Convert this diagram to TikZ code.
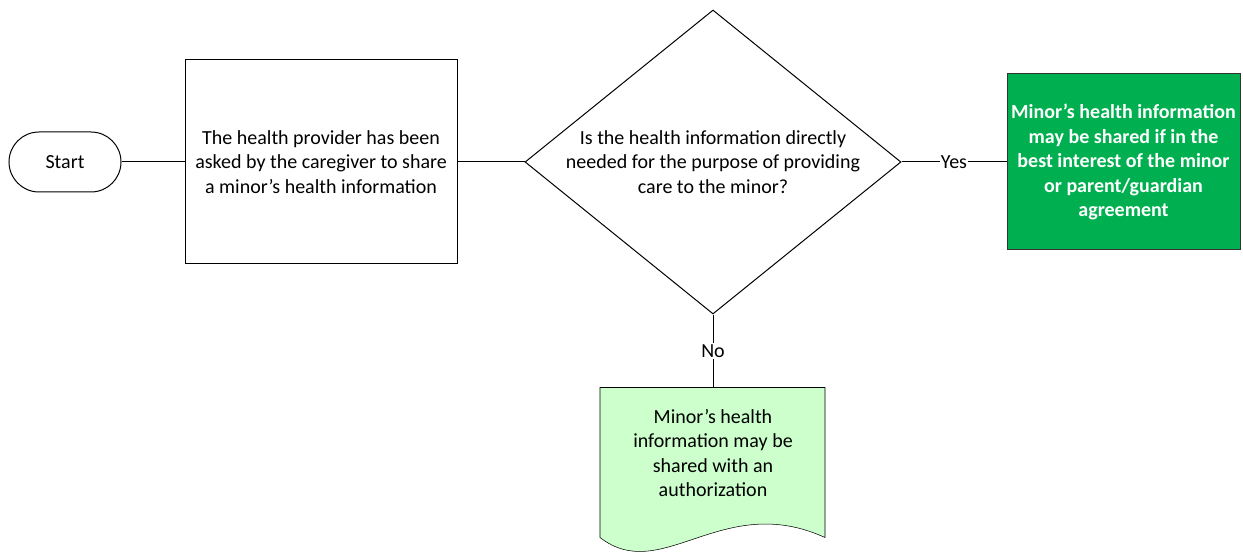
\documentclass[tikz,border=0pt]{standalone}
\usepackage{fontspec}
\setmainfont{Carlito}
\usetikzlibrary{positioning,shapes.geometric,backgrounds}
\definecolor{okgreen}{HTML}{00B050}
\definecolor{docgreen}{HTML}{CCFFCC}

\begin{document}
\begin{tikzpicture}[line width=0.75pt,
		every node/.style={font=\fontsize{15}{18.4}\selectfont,align=center},
		terminal/.style={draw,rounded corners=22.5pt,minimum width=84pt,minimum height=45pt,inner sep=0pt},
		process/.style={draw,minimum width=204pt,minimum height=153pt,inner sep=0pt},
		decision/.style={draw,diamond,aspect=1.237,minimum width=282pt,minimum height=228pt,inner sep=0pt},
		result/.style={draw=black!80,fill=okgreen,text=white,font=\fontsize{15}{18.4}\selectfont\bfseries,minimum width=174.75pt,minimum height=132pt,inner sep=0pt},
		docbox/.style={minimum width=168.75pt,minimum height=97.5pt,inner sep=0pt},
		edgelabel/.style={fill=white,inner sep=1pt}]
		\useasboundingbox (0,0) rectangle (932.25pt,-414pt);
		
		\node [terminal] at (48.75pt,-121.5pt)         (start) {Start};
		\node [process,right=47.25pt of start]         (ask)   {The health provider has been\\asked by the caregiver to share\\a minor’s health information};
		\node [decision,right=50.25pt of ask]          (need)  {Is the health information directly\\needed for the purpose of providing\\care to the minor?};
		\node [result,right=78.75pt of need]           (share) {Minor’s health information\\may be shared if in the\\best interest of the minor\\or parent/guardian\\agreement};
		\node [docbox,below=54.75pt of need]           (auth)  {Minor’s health\\information may be\\shared with an\\authorization};
		
		% document shape with wavy bottom
		\begin{scope}[on background layer,shift={(auth.north west)}]
			\draw [fill=docgreen] (0,0) -- (168.75pt,0) -- (168.75pt,-112.5pt)
				.. controls (91.5pt,-77.25pt) and (46.5pt,-148.5pt) .. (0,-112.5pt) -- cycle;
		\end{scope}
		
		\draw (start)--(ask);
		\draw (ask)--(need);
		\draw (need)-- node[edgelabel]{Yes} (share);
		\draw (need)-- node[edgelabel]{No} (auth);
	\end{tikzpicture}
\end{document}
